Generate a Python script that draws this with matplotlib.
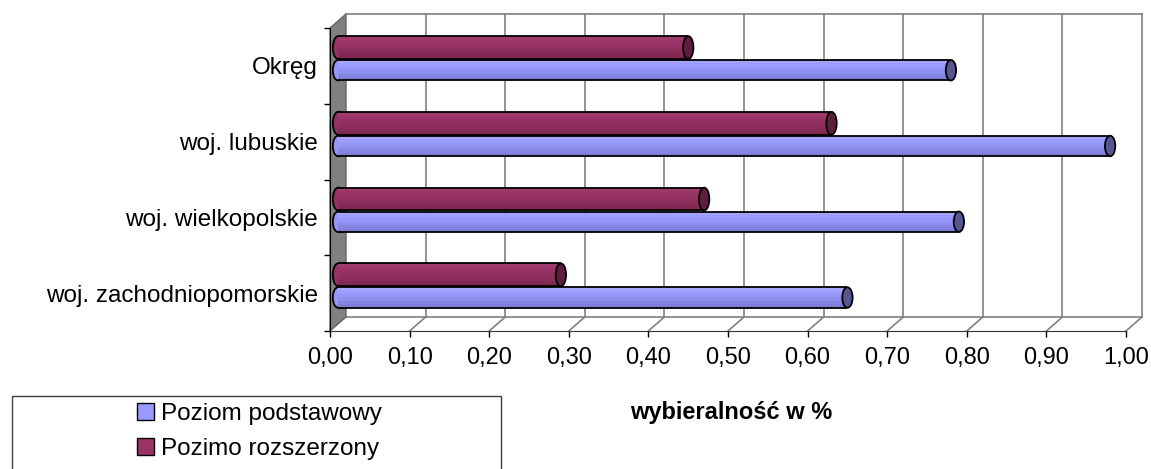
import numpy as np
import matplotlib
matplotlib.use('Agg')
import matplotlib.pyplot as plt
from matplotlib.patches import Ellipse, Polygon, Rectangle, Patch

# data
categories = ['woj. zachodniopomorskie', 'woj. wielkopolskie', 'woj. lubuskie', 'Okręg']
podstawowy = [0.64, 0.78, 0.97, 0.77]
rozszerzony = [0.28, 0.46, 0.62, 0.44]
series_names = ['Poziom podstawowy', 'Pozimo rozszerzony']
xticks = np.round(np.arange(0, 1.01, 0.1), 2)

plt.rcParams['font.family'] = ['Liberation Sans', 'DejaVu Sans']
plt.rcParams['font.size'] = 17

W, H = 1151, 469
fig = plt.figure(figsize=(W / 100, H / 100), dpi=100)
ax = fig.add_axes([330 / W, 1 - 331 / H, 796 / W, 303 / H])
ax.set_xlim(0, 1)
ax.set_ylim(-0.5, 3.5)

# depth of the pseudo 3d box, in data units
DX, DY = 16 / 796, 14 / 75.75
grid = '#808080'

# back wall + floor
for t in xticks[1:]:
    ax.plot([t + DX] * 2, [-0.5 + DY, 3.5 + DY], color=grid, lw=1.2, clip_on=False, zorder=1)
    ax.plot([t, t + DX], [-0.5, -0.5 + DY], color=grid, lw=1.2, clip_on=False, zorder=1)
ax.plot([DX, 1 + DX], [3.5 + DY] * 2, color=grid, lw=1.2, clip_on=False, zorder=1)
ax.plot([DX, 1 + DX], [-0.5 + DY] * 2, color=grid, lw=1.2, clip_on=False, zorder=1)
ax.add_patch(Polygon([(0, -0.5), (DX, -0.5 + DY), (DX, 3.5 + DY), (0, 3.5)], closed=True,
                     facecolor='#808080', edgecolor='#666666', lw=1, clip_on=False, zorder=1))

capw = 0.013


def cylinder(y, val, h, shades, cap):
    x0 = DX / 2
    y0 = y + DY / 2
    ax.add_patch(Ellipse((x0, y0), capw, h, facecolor=shades[2], edgecolor='black',
                         lw=1.3, zorder=3, clip_on=False))
    n = len(shades)
    for k, c in enumerate(shades):
        ax.barh(y0 + h / 2 - (k + 0.5) * h / n, val, height=h / n, left=x0, color=c,
                lw=0, antialiased=False, zorder=4, clip_on=False)
    ax.hlines([y0 - h / 2, y0 + h / 2], x0, x0 + val, color='black', lw=1.3, zorder=5)
    ax.add_patch(Ellipse((x0 + val, y0), capw, h, facecolor=cap, edgecolor='black',
                         lw=1.3, zorder=6, clip_on=False))


blue = ['#A4A4FF', '#9C9CFF', '#9696F8', '#8E8EEE', '#8686E2', '#7E7ED8']
maroon = ['#A33A6C', '#9B3567', '#963263', '#8E2F5E', '#872B58', '#7E2852']

for i in range(len(categories)):
    cylinder(i - 0.15, podstawowy[i], 0.27, blue, '#55558F')
    cylinder(i + 0.15, rozszerzony[i], 0.30, maroon, '#5E1F3E')

for s in ['top', 'right']:
    ax.spines[s].set_visible(False)
ax.spines['left'].set_color('black')
ax.spines['bottom'].set_color('#333333')

ax.set_xticks(xticks)
ax.set_xticklabels([f'{t:.2f}'.replace('.', ',') for t in xticks])
ax.tick_params(axis='x', length=4.3, width=1, pad=7)
ax.set_yticks(range(len(categories)))
ax.set_yticklabels(categories, fontsize=17.5)
ax.set_yticks(np.arange(-0.5, 4, 1), minor=True)
ax.tick_params(axis='y', which='major', length=0, pad=8.6)
ax.tick_params(axis='y', which='minor', length=4.3, width=1)

fig.text(731 / W, 1 - 412 / H, 'wybieralność w %', ha='center', va='center', fontweight='bold')

handles = [Patch(facecolor='#9999FF', edgecolor='black'), Patch(facecolor='#993366', edgecolor='black')]
fig.legend(handles, series_names, loc='upper left', bbox_to_anchor=(137 / W, 1 - 403 / H),
           frameon=False, borderpad=0, borderaxespad=0, handlelength=0.7, handleheight=0.7,
           handletextpad=0.3, labelspacing=0.55, fontsize=17.5)
fig.add_artist(Rectangle((12 / W, -0.1), (501 - 12) / W, (1 - 396 / H) + 0.1,
                         transform=fig.transFigure, fill=False, edgecolor='#404040', lw=1))

fig.savefig('out.png', dpi=100)
